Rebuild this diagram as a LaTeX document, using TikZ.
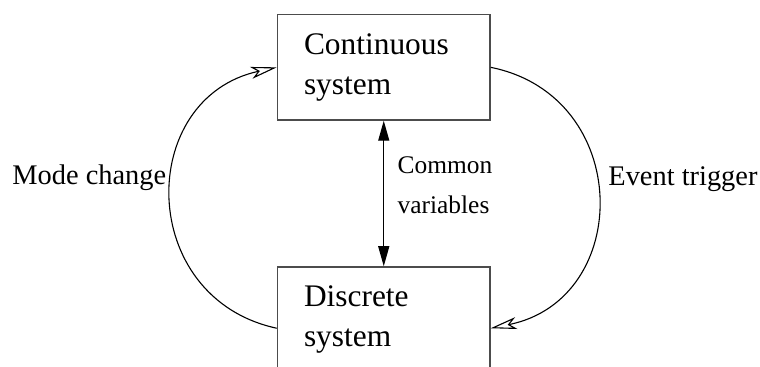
\documentclass[tikz,border=0pt]{standalone}
\usepackage{fontspec}
\setmainfont{Liberation Serif}
\usetikzlibrary{arrows.meta,calc}

\tikzset{
  sysbox/.style={draw=black!70, line width=0.75pt, minimum width=106.25pt, minimum height=52.65pt,
    inner sep=0pt, text width=79.75pt, align=left,
    font=\fontsize{15.7}{20}\selectfont},
  flow/.style={line width=0.55pt, -{Stealth[open, length=13pt, width=6pt, inset=3.5pt]}},
  shared/.style={line width=0.6pt, {Triangle[length=10pt, width=5.5pt]}-{Triangle[length=10pt, width=5.5pt]}},
  lbl/.style={inner sep=0pt, font=\fontsize{14.2}{18}\selectfont},
  smalllbl/.style={inner sep=0pt, align=left, font=\fontsize{12.7}{20}\selectfont},
}

\begin{document}
\begin{tikzpicture}[x=0.5pt, y=0.5pt]
  \useasboundingbox (0,0) rectangle (760,367);
  \clip (0,0) rectangle (760,367);

  % the two subsystems
  \node[sysbox] (c) at (383.75,299.65) {Continuous\\system};
  \node[sysbox] (d) at (383.75,47.35) {Discrete\\system};

  % shared variables between them
  \draw[shared] (c.south) -- (d.north);
  \node[smalllbl, anchor=west] (cv) at (397.3,182.1) {Common\\variables};

  % attachment points of the loops on the discrete block
  \coordinate (dl) at ($(d.north west)+(0,-62)$);
  \coordinate (dr) at ($(d.north east)+(0,-62)$);

  % mode change: discrete -> continuous
  \draw[flow] (dl) to[out=167.8, in=192.2, distance=72pt] (c.west);
  \node[lbl, anchor=base west] (mc) at (12,182) {Mode change};

  % event trigger: continuous -> discrete
  \draw[flow] (c.east) to[out=-11.4, in=11.4, distance=72.8pt] (dr);
  \node[lbl, anchor=base west] (et) at (608,181.3) {Event trigger};
\end{tikzpicture}
\end{document}
